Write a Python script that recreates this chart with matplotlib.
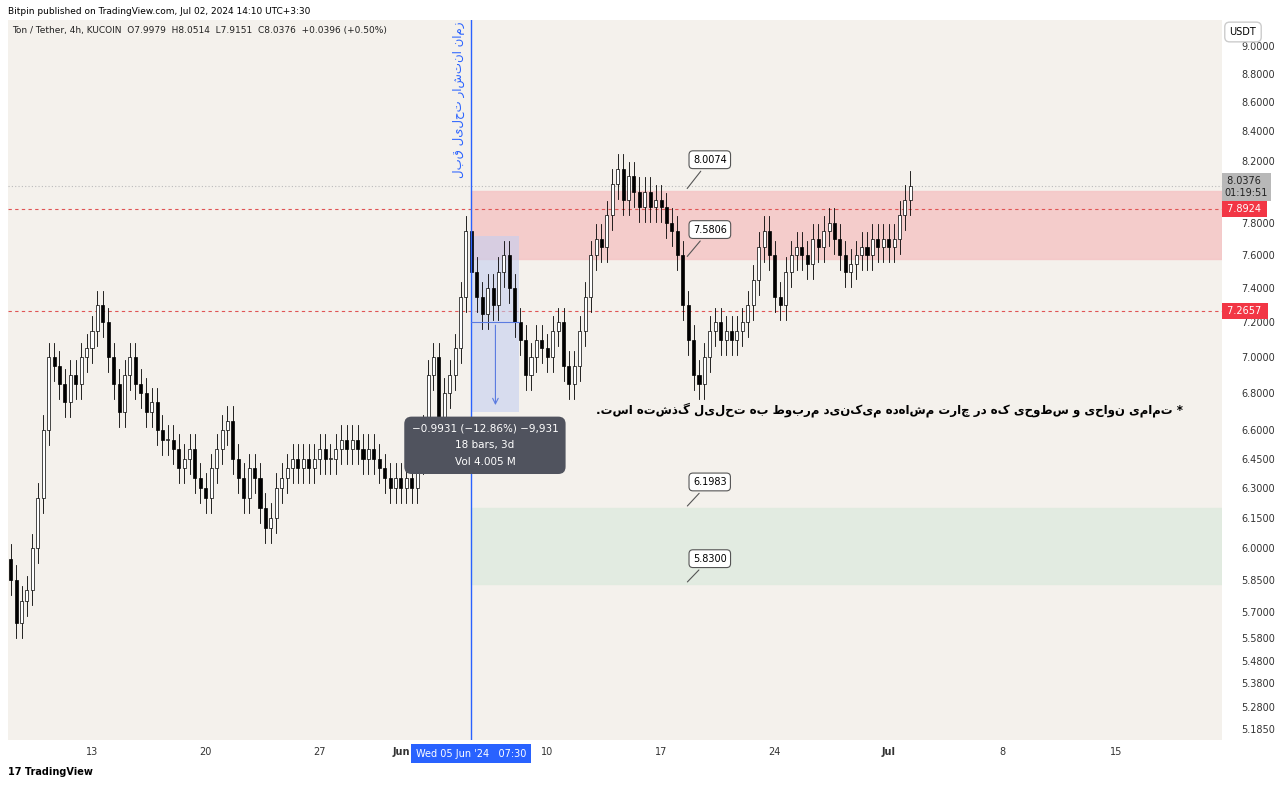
import matplotlib
matplotlib.use("Agg")
import matplotlib.pyplot as plt
import matplotlib.dates as mdates
from matplotlib.patches import Rectangle
from matplotlib.ticker import FixedLocator, NullLocator
import datetime as dt

start = dt.datetime(2024, 5, 8, 0, 0)
bar_hours = 8
closes = [5.85,5.65,5.75, 5.80,6.0,6.25, 6.6,7.0,6.95, 6.85,6.75,6.9, 6.85,7.0,7.05,
          7.15,7.3,7.2, 7.0,6.85,6.7, 6.9,7.0,6.85, 6.8,6.7,6.75, 6.6,6.55,6.55,
          6.5,6.4,6.45, 6.5,6.35,6.3, 6.25,6.4,6.5, 6.6,6.65,6.45, 6.35,6.25,6.4,
          6.35,6.2,6.1, 6.15,6.3,6.35, 6.4,6.45,6.4, 6.45,6.4,6.45, 6.5,6.45,6.45,
          6.5,6.55,6.5, 6.55,6.5,6.45, 6.5,6.45,6.4, 6.35,6.3,6.35, 6.3,6.35,6.3,
          6.45,6.6,6.9, 7.0,6.6,6.8, 6.9,7.05,7.35, 7.75,7.5,7.35, 7.25,7.4,7.3,
          7.5,7.6,7.4, 7.2,7.1,6.9, 7.0,7.1,7.05, 7.0,7.15,7.2, 6.95,6.85,6.95,
          7.15,7.35,7.6, 7.7,7.65,7.85, 8.05,8.15,7.95, 8.1,8.0,7.9, 8.0,7.9,7.95,
          7.9,7.8,7.75, 7.6,7.3,7.1, 6.9,6.85,7.0, 7.15,7.2,7.1, 7.15,7.1,7.15,
          7.2,7.3,7.45, 7.65,7.75,7.6, 7.35,7.3,7.5, 7.6,7.65,7.6, 7.55,7.7,7.65,
          7.75,7.8,7.7, 7.6,7.5,7.55, 7.6,7.65,7.6, 7.7,7.65,7.7, 7.65,7.7,7.85,
          7.95,8.0376]
first_open = 5.95
wick_pct = 0.012

red_zone = (7.5806, 8.0074)
green_zone = (5.8300, 6.1983)
dashed_levels = [7.8924, 7.2657]
last_price = 8.0376
pub_time = dt.datetime(2024, 6, 5, 7, 30)
y_ticks = [9.0,8.8,8.6,8.4,8.2,7.8,7.6,7.4,7.2,7.0,6.8,6.6,6.45,6.3,6.15,6.0,5.85,5.7,5.58,5.48,5.38,5.28,5.185]
x_tick_dates = [dt.datetime(2024,5,13),dt.datetime(2024,5,20),dt.datetime(2024,5,27),dt.datetime(2024,6,1),
                dt.datetime(2024,6,10),dt.datetime(2024,6,17),dt.datetime(2024,6,24),dt.datetime(2024,7,1),
                dt.datetime(2024,7,8),dt.datetime(2024,7,15)]
x_tick_labels = ["13","20","27","Jun","10","17","24","Jul","8","15"]

fig = plt.figure(figsize=(12.8, 7.85), dpi=100)
fig.patch.set_facecolor("white")
ax = fig.add_axes([8/1280, 1-740/785, (1222-8)/1280, (740-20)/785])
ax.set_facecolor("#f4f1ec")
ax.set_yscale("log")
ax.set_ylim(5.14, 9.19)
xmin = mdates.date2num(dt.datetime(2024,5,7,20))
xmax = mdates.date2num(dt.datetime(2024,7,21,12))
ax.set_xlim(xmin, xmax)

bw = bar_hours/24.0
prev = first_open
for i, c in enumerate(closes):
    t = mdates.date2num(start + dt.timedelta(hours=bar_hours*i))
    o = prev
    hi = max(o, c)*(1+wick_pct); lo = min(o, c)*(1-wick_pct)
    ax.plot([t, t], [lo, hi], color="black", lw=0.6, zorder=3)
    up = c >= o
    ax.add_patch(Rectangle((t-bw*0.28, min(o, c)), bw*0.56, max(abs(c-o), 0.005),
                           facecolor="white" if up else "black", edgecolor="black", lw=0.5, zorder=4))
    prev = c

pt = mdates.date2num(pub_time)
fx = (pt-xmin)/(xmax-xmin)
ax.axhspan(*red_zone, xmin=fx, xmax=1, color="#f5c6c6", alpha=0.85, zorder=1)
ax.axhspan(*green_zone, xmin=fx, xmax=1, color="#e0ebe0", alpha=0.9, zorder=1)
for lv in dashed_levels:
    ax.axhline(lv, color="#e05555", ls=(0, (3, 3)), lw=0.8, zorder=2)
ax.axhline(last_price, color="#bbbbbb", ls=(0, (1, 2)), lw=0.8, zorder=2)
ax.axvline(pt, color="#2962ff", lw=1.0, zorder=5)

m_end = mdates.date2num(dt.datetime(2024,6,8,6))
ax.add_patch(Rectangle((pt, 6.7), m_end-pt, 7.72-6.7, facecolor="#c5cff0", alpha=0.6, zorder=2))
ax.annotate("", xy=(pt+1.5, 6.72), xytext=(pt+1.5, 7.2),
            arrowprops=dict(arrowstyle="->", color="#5b7be0", lw=0.8), zorder=6)
ax.plot([pt, m_end], [7.2, 7.2], color="#5b7be0", lw=0.8, zorder=6)
ax.text(mdates.date2num(dt.datetime(2024,6,6,4)), 6.52, "\u22120.9931 (\u221212.86%) \u22129,931\n18 bars, 3d\nVol 4.005 M",
        ha="center", va="center", color="white", fontsize=7.5, linespacing=1.8, zorder=8,
        bbox=dict(boxstyle="round,pad=0.7", fc="#50535e", ec="none"))

for val, ylab in [(8.0074, 8.21), (7.5806, 7.76), (6.1983, 6.33), (5.83, 5.95)]:
    xl = mdates.date2num(dt.datetime(2024,6,18,23))
    ax.annotate(f"{val:.4f}", xy=(mdates.date2num(dt.datetime(2024,6,18,12)), val),
                xytext=(xl, ylab), fontsize=7, ha="left", va="center", zorder=8,
                bbox=dict(boxstyle="round,pad=0.4", fc="white", ec="#555555", lw=0.8),
                arrowprops=dict(arrowstyle="-", color="#555555", lw=0.8))

fa = ["DejaVu Sans"]
note = "* تمامی نواحی و سطوحی که در چارت مشاهده می‌کنید مربوط به تحلیل گذشته است."
ax.text(mdates.date2num(dt.datetime(2024,7,19,2)), 6.71, note[::-1], ha="right", va="center",
        fontsize=8.5, fontweight="bold", family=fa, zorder=8)
vert = "زمان انتشار تحلیل قبل"
ax.text(pt-0.8, 8.62, vert[::-1], rotation=90, ha="center", va="center", color="#2962ff",
        fontsize=8.5, family=fa, zorder=8)

ax.yaxis.tick_right()
ax.yaxis.set_major_locator(FixedLocator(y_ticks))
ax.yaxis.set_minor_locator(NullLocator())
ax.set_yticklabels([f"{v:.4f}" for v in y_ticks])
ax.xaxis.set_major_locator(FixedLocator([mdates.date2num(d) for d in x_tick_dates]))
ax.set_xticklabels(x_tick_labels)
ax.tick_params(axis="both", length=0, labelsize=7, colors="#333333")
ax.tick_params(axis="y", pad=14)
ax.tick_params(axis="x", pad=5)
for lbl in ax.get_xticklabels():
    if lbl.get_text() in ("Jun", "Jul"):
        lbl.set_fontweight("bold")
for s in ax.spines.values():
    s.set_visible(False)

def tag(price, txt, fc, color="white"):
    ax.text(1.002, price, txt, transform=ax.get_yaxis_transform(), ha="left", va="center",
            fontsize=7, color=color, zorder=10,
            bbox=dict(boxstyle="square,pad=0.3", fc=fc, ec="none"))
tag(8.03, " 8.0376 \n01:19:51", "#b8b8b8", "#222222")
tag(7.8924, " 7.8924 ", "#f23645")
tag(7.2657, " 7.2657 ", "#f23645")
fig.text(1243/1280, 1-32/785, "USDT", fontsize=7, ha="center", va="center",
         bbox=dict(boxstyle="round,pad=0.5", fc="white", ec="#cccccc"))
ax.text(pt, -0.012, "Wed 05 Jun '24   07:30", transform=ax.get_xaxis_transform(), ha="center", va="top",
        fontsize=7, color="white", zorder=10, bbox=dict(boxstyle="square,pad=0.45", fc="#2962ff", ec="none"))

fig.text(8/1280, 1-11/785, "Bitpin published on TradingView.com, Jul 02, 2024 14:10 UTC+3:30", fontsize=6.5, va="center")
fig.text(12/1280, 1-31/785, "Ton / Tether, 4h, KUCOIN  O7.9979  H8.0514  L7.9151  C8.0376  +0.0396 (+0.50%)",
         fontsize=6.5, va="center", color="#222222")
fig.text(8/1280, 1-772/785, "17 TradingView", fontsize=7, va="center", fontweight="bold")
fig.savefig("out.png", dpi=100)
